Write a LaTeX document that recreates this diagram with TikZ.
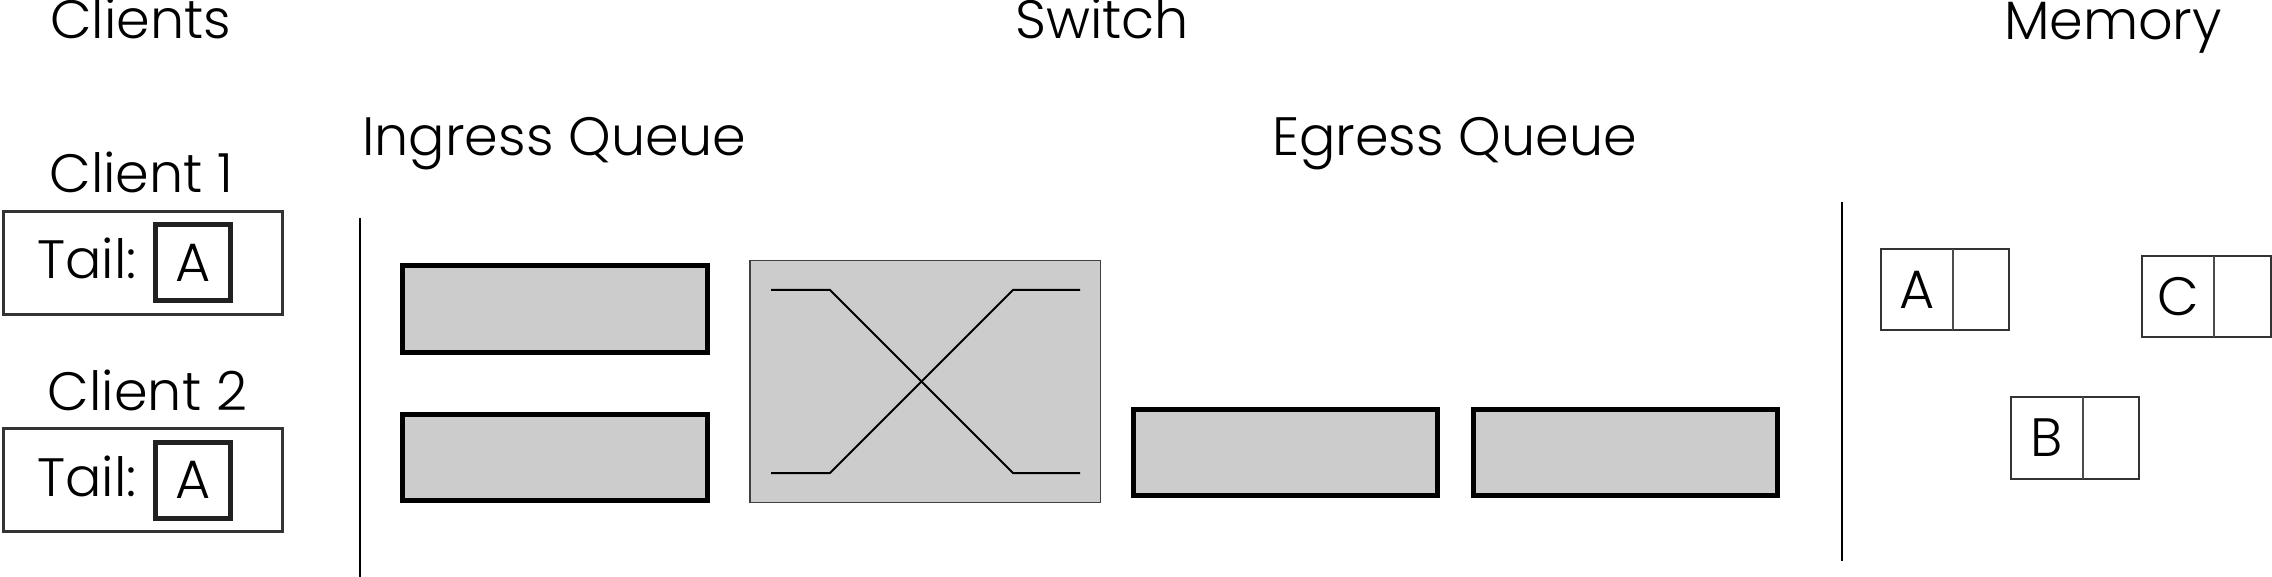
\documentclass[tikz,border=0pt]{standalone}
\usepackage{fontspec}
\setmainfont{Poppins Light}
\begin{document}
\begin{tikzpicture}[x=0.5pt,y=-0.5pt,
  lbl/.style={inner sep=0pt,font=\fontsize{27}{32}\selectfont},
  client/.style={draw=black!80,line width=1.5pt,inner sep=0pt,minimum width=139.5pt,minimum height=51.5pt},
  tailbox/.style={draw=black!87,line width=2.5pt,inner sep=0pt,minimum width=37.5pt,minimum height=38pt},
  queue/.style={draw=black,fill=black!20,line width=2.5pt,inner sep=0pt,minimum width=152.5pt,minimum height=43.5pt},
  switchbox/.style={draw=black!75,fill=black!20,line width=0.75pt,inner sep=0pt,minimum width=175.25pt,minimum height=120.75pt},
  membox/.style={draw=black!80,line width=1pt,inner sep=0pt,minimum width=64pt,minimum height=40.5pt},
  divider/.style={draw=black!70,line width=0.8pt},
  sep/.style={draw=black,line width=1.3pt},
  wire/.style={draw=black,line width=1pt}]
\useasboundingbox (0,0) rectangle (2272,577);
% titles
\node[lbl,anchor=base] (tclients) at (140.5,39) {Clients};
\node[lbl,anchor=base] (tswitch) at (1102,39) {Switch};
\node[lbl,anchor=base] (tmemory) at (2113,40) {Memory};
\node[lbl,anchor=base] (tingress) at (554.5,156) {Ingress Queue};
\node[lbl,anchor=base] (tegress) at (1454.5,156) {Egress Queue};
% clients
\node[lbl,anchor=base] (tc1) at (141.5,193) {Client 1};
\node[lbl,anchor=base] (tc2) at (147.5,410) {Client 2};
\node[client] (c1) at (142.5,263) {};
\node[client] (c2) at (142.5,480) {};
\node[lbl,anchor=base west] (tail1) at (37,279) {Tail:};
\node[lbl,anchor=base west] (tail2) at (37,496) {Tail:};
\node[tailbox] (tb1) at (193,262.5) {};
\node[tailbox] (tb2) at (193,480) {};
\node[lbl] (ta1) at (tb1.center) {A};
\node[lbl] (ta2) at (tb2.center) {A};
% separators
\coordinate (s1a) at (360,218);
\coordinate (s1b) at (360,577);
\coordinate (s2a) at (1842,202);
\coordinate (s2b) at (1842,561);
\draw[sep] (s1a) -- (s1b);
\draw[sep] (s2a) -- (s2b);
% ingress queues
\node[queue] (iq1) at (555,309) {};
\node[queue,minimum height=43pt] (iq2) at (555,457.5) {};
% switch
\node[switchbox] (sw) at (925,381.5) {};
\coordinate (p1) at (771,290);
\coordinate (p2) at (830,290);
\coordinate (p3) at (1013,473);
\coordinate (p4) at (1080,473);
\coordinate (q1) at (771,473);
\coordinate (q2) at (830,473);
\coordinate (q3) at (1013,290);
\coordinate (q4) at (1080,290);
\draw[wire] (p1) -- (p2) -- (p3) -- (p4);
\draw[wire] (q1) -- (q2) -- (q3) -- (q4);
% egress queues
\node[queue,minimum width=152pt,minimum height=43pt] (eq1) at (1285.5,452.5) {};
\node[queue,minimum width=152pt,minimum height=43pt] (eq2) at (1625.5,452.5) {};
% memory
\node[membox] (ma) at (1945,289.5) {};
\node[membox,minimum height=41pt] (mb) at (2075,438) {};
\node[membox,minimum width=64.5pt] (mc) at (2206.5,296.5) {};
\draw[divider] (1953,249) -- (1953,330);
\draw[divider] (2083,397) -- (2083,479);
\draw[divider] (2214,256) -- (2214,337);
\node[lbl] (la) at (1917,289.5) {A};
\node[lbl] (lb) at (2047,438) {B};
\node[lbl] (lc) at (2178,296.5) {C};
\end{tikzpicture}
\end{document}
